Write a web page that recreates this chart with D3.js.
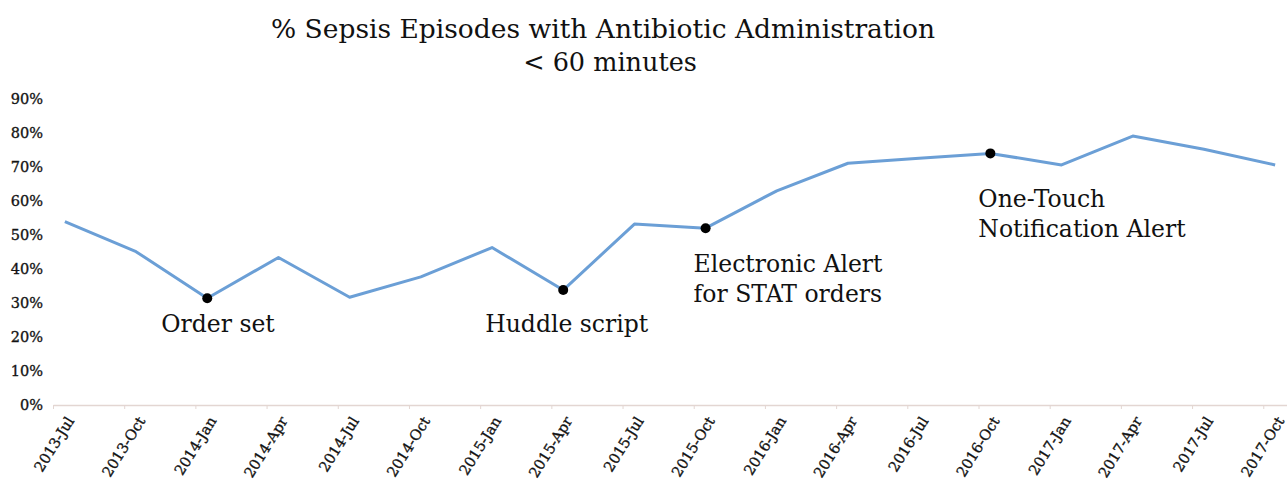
<!DOCTYPE html>
<html>
<head>
<meta charset="utf-8">
<script src="https://cdn.jsdelivr.net/npm/d3@7"></script>
<style>
  html, body { margin: 0; padding: 0; background: #fff; }
  svg { display: block; }
  text { font-family: Georgia, "DejaVu Serif", serif; fill: #111; }
</style>
</head>
<body>
<svg id="chart" width="1287" height="479"></svg>
<script>
// Quarterly sepsis compliance: share of episodes with antibiotics given in < 60 min
const quarters = ["2013-Jul","2013-Oct","2014-Jan","2014-Apr","2014-Jul","2014-Oct",
  "2015-Jan","2015-Apr","2015-Jul","2015-Oct","2016-Jan","2016-Apr",
  "2016-Jul","2016-Oct","2017-Jan","2017-Apr","2017-Jul","2017-Oct"];
const pctUnder60 = [0.539,0.451,0.314,0.434,0.317,0.377,
  0.463,0.338,0.532,0.520,0.630,0.711,
  0.726,0.740,0.706,0.791,0.752,0.706];
const yTicks = [0,0.1,0.2,0.3,0.4,0.5,0.6,0.7,0.8,0.9];

// Interventions marked on the line
const interventions = [
  { quarter: "2014-Jan", lines: ["Order set"] },
  { quarter: "2015-Apr", lines: ["Huddle script"] },
  { quarter: "2015-Oct", lines: ["Electronic Alert", "for STAT orders"] },
  { quarter: "2016-Oct", lines: ["One-Touch", "Notification Alert"] }
];

const svg = d3.select("#chart");
const W = 1287;
const axisY = 405;
const serif = 'Georgia, "DejaVu Serif", serif';

// Each quarter occupies three monthly slots; points sit in the middle of the first month.
const x = d3.scaleLinear().domain([-1/6, quarters.length - 1 + 1/6]).range([53, W]);
const y = d3.scaleLinear().domain([0, 0.9]).range([axisY, 99]);

// Title
svg.append("text").attr("x", 603).attr("y", 38).attr("text-anchor", "middle")
  .style("font-size", "26.5px").text("% Sepsis Episodes with Antibiotic Administration");
svg.append("text").attr("x", 610).attr("y", 71).attr("text-anchor", "middle")
  .style("font-size", "25.5px").text("< 60 minutes");

// Y axis labels only
const yAxis = svg.append("g").attr("transform", "translate(43,0)")
  .call(d3.axisLeft(y).tickValues(yTicks).tickFormat(d3.format(".0%")).tickSize(0).tickPadding(0));
yAxis.select(".domain").remove();
yAxis.selectAll("text").style("font-size", "14.5px").style("font-family", serif)
  .attr("fill", "#1a1a1a").attr("stroke", "#1a1a1a").attr("stroke-width", 0.35);

// X axis: line and ticks at quarter boundaries
const bounds = d3.range(quarters.length).map(i => i - 1/6);
const xTickAxis = svg.append("g").attr("transform", `translate(0,${axisY})`)
  .call(d3.axisBottom(x).tickValues(bounds).tickFormat("").tickSize(4).tickSizeOuter(0));
xTickAxis.select(".domain").attr("stroke", "#e3d6d2").attr("stroke-width", 1.5);
xTickAxis.selectAll(".tick line").attr("stroke", "#e3d6d2");

// X labels at each quarter point, rotated
const xLabelAxis = svg.append("g").attr("transform", `translate(0,${axisY})`)
  .call(d3.axisBottom(x).tickValues(d3.range(quarters.length)).tickFormat(i => quarters[i]).tickSize(0));
xLabelAxis.select(".domain").remove();
xLabelAxis.selectAll("text")
  .style("font-size", "14.5px").style("font-family", serif)
  .attr("fill", "#1a1a1a").attr("stroke", "#1a1a1a").attr("stroke-width", 0.35)
  .attr("text-anchor", "end")
  .attr("y", 0).attr("dy", "0.35em")
  .attr("transform", "translate(5,13) rotate(-58)");

// Data line
const line = d3.line().x((d, i) => x(i)).y(d => y(d));
svg.append("path").datum(pctUnder60)
  .attr("fill", "none").attr("stroke", "#6b9fd6").attr("stroke-width", 3)
  .attr("stroke-linejoin", "round").attr("d", line);

// Intervention markers and labels
const labelPos = {
  "2014-Jan": { dx: -46, dy: 34 },
  "2015-Apr": { dx: -78, dy: 42 },
  "2015-Oct": { dx: -12, dy: 44 },
  "2016-Oct": { dx: -12, dy: 54 }
};
interventions.forEach(ev => {
  const i = quarters.indexOf(ev.quarter);
  const cx = x(i), cy = y(pctUnder60[i]);
  svg.append("circle").attr("cx", cx).attr("cy", cy).attr("r", 5).attr("fill", "#000");
  const p = labelPos[ev.quarter];
  const t = svg.append("text").attr("x", cx + p.dx).attr("y", cy + p.dy)
    .style("font-size", "23.5px").attr("fill", "#111");
  ev.lines.forEach((s, k) => {
    t.append("tspan").attr("x", cx + p.dx).attr("dy", k === 0 ? 0 : 29.5).text(s);
  });
});
</script>
</body>
</html>
